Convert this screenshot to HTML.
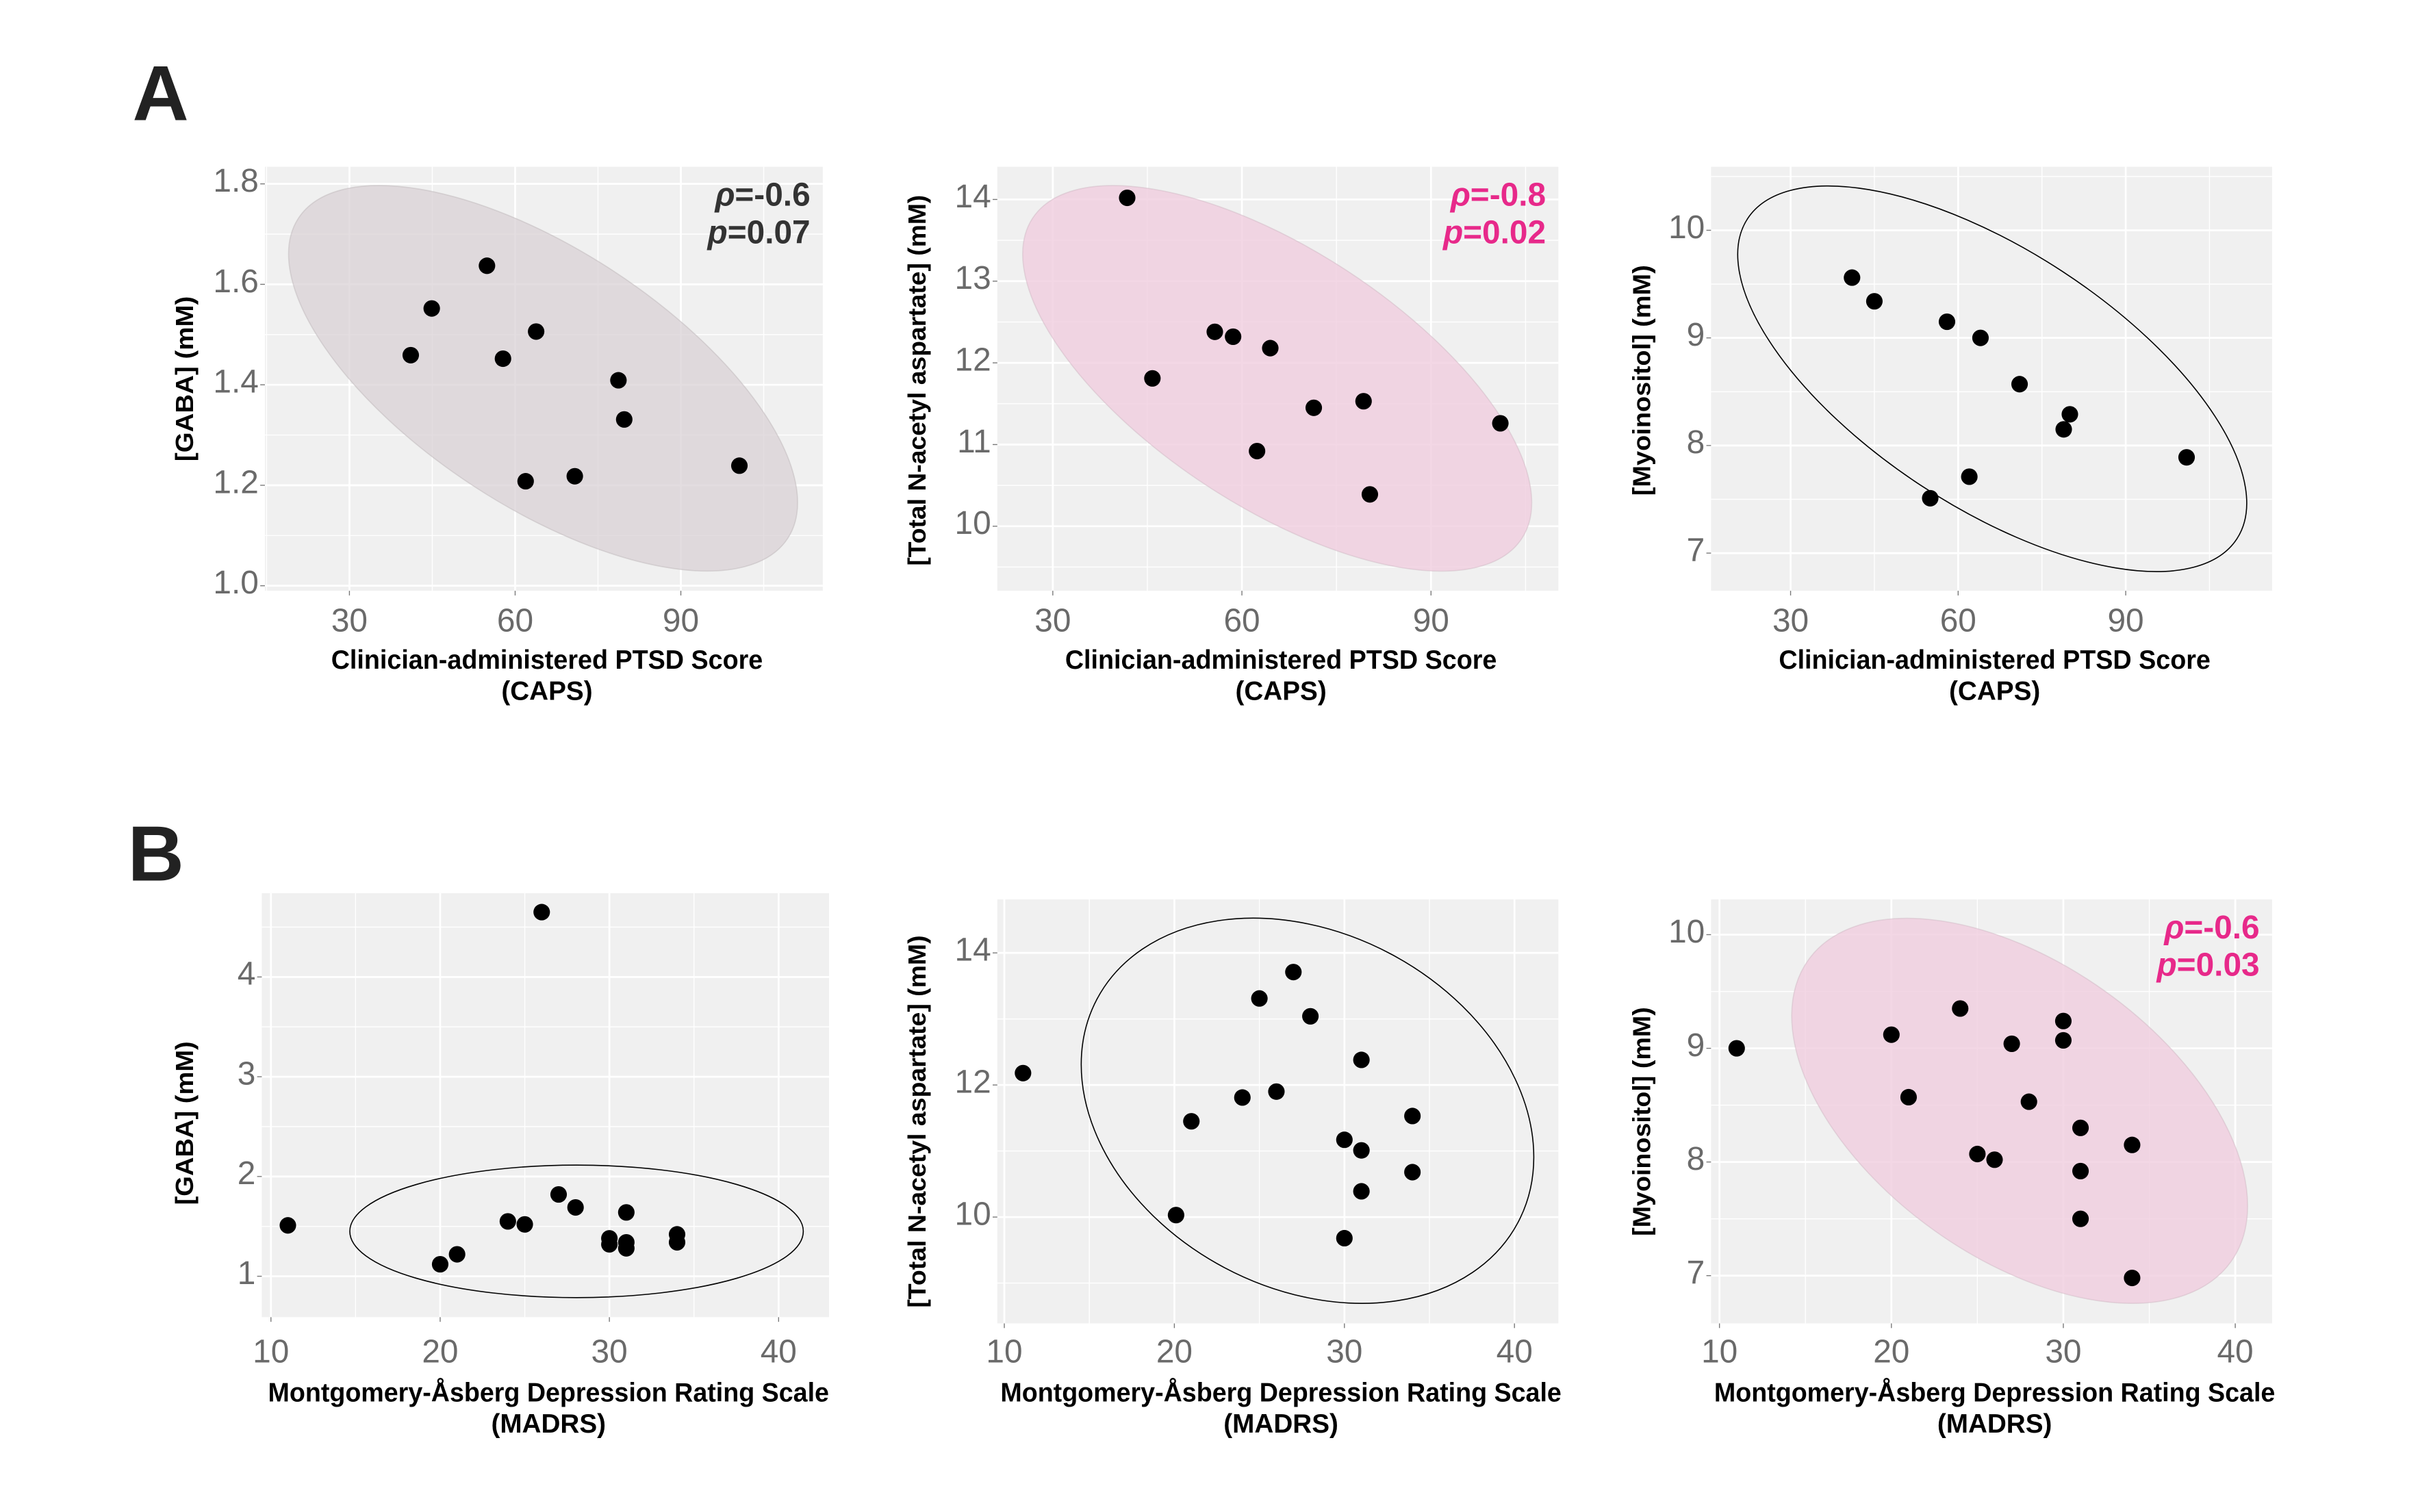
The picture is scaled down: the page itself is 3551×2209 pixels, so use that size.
<!DOCTYPE html>
<html><head><meta charset="utf-8"><style>
html,body{margin:0;padding:0;background:#fff}
svg{display:block}
text{font-family:"Liberation Sans Narrow","Liberation Sans",sans-serif}
</style></head><body>
<svg id="fig" xmlns="http://www.w3.org/2000/svg" width="3551" height="2209" viewBox="0 0 1560 970" preserveAspectRatio="none">
<rect x="0" y="0" width="1560" height="970" fill="#fff"/>
<text x="85" y="77" font-size="50" font-weight="bold" fill="#222" style="font-family:'Liberation Sans',sans-serif">A</text>
<text x="82" y="565" font-size="50" font-weight="bold" fill="#222" style="font-family:'Liberation Sans',sans-serif">B</text>
</svg>
<script>
// ---- data ----
const a1X=[41.1,44.9,54.9,57.8,63.8,61.9,70.8,78.7,79.75,100.6];
const a1Y=[1.459,1.552,1.637,1.452,1.506,1.208,1.218,1.409,1.331,1.239];
const a2X=[41.8,45.8,55.7,58.6,64.5,71.4,79.3,62.4,80.3,101.0];
const a2Y=[14.02,11.81,12.38,12.32,12.18,11.45,11.53,10.92,10.39,11.26];
const a3X=[41,45,58,64,71,80,78.9,100.9,62,55];
const a3Y=[9.56,9.34,9.15,9.00,8.57,8.29,8.15,7.89,7.71,7.51];
const b1X=[11,26,20,21,24,25,27,28,31,30,30,31,31,34,34];
const b1Y=[1.51,4.65,1.12,1.22,1.55,1.52,1.82,1.69,1.64,1.38,1.32,1.34,1.28,1.42,1.34];
const b2X=[11.1,27,25,28,31,26,24,21,34,30,31,34,31,20.1,30];
const b2Y=[12.18,13.71,13.31,13.04,12.38,11.90,11.81,11.45,11.53,11.17,11.01,10.68,10.39,10.03,9.68];
const b3X=[11,20,24,30,30,27,21,28,31,34,25,26,31,31,34];
const b3Y=[9.00,9.12,9.35,9.24,9.07,9.04,8.57,8.53,8.30,8.15,8.07,8.02,7.92,7.50,6.98];
const capsTicks=[30,60,90];
const madrsTicks=[10,20,30,40];
const gabaATicks=[1.0,1.2,1.4,1.6,1.8];
const naaATicks=[10,11,12,13,14];
const myoATicks=[7,8,9,10];
const gabaBTicks=[1,2,3,4];
const naaBTicks=[10,12,14];
const myoBTicks=[7,8,9,10];
const a1Stats=["ρ=-0.6","p=0.07"];
const a2Stats=["ρ=-0.8","p=0.02"];
const b3Stats=["ρ=-0.6","p=0.03"];

const NS="http://www.w3.org/2000/svg";
const svg=document.getElementById('fig');
function mk(tag,attrs,parent){const e=document.createElementNS(NS,tag);for(const k in attrs)e.setAttribute(k,attrs[k]);(parent||svg).appendChild(e);return e;}

function panel(o){
  const g=mk('g',{});
  
  
  const L=o.box[0],R=o.box[1],T=o.box[2],B=o.box[3];
  const sx=v=>L+(v-o.xd[0])/(o.xd[1]-o.xd[0])*(R-L);
  const sy=v=>B-(v-o.yd[0])/(o.yd[1]-o.yd[0])*(B-T);
  const bg=mk('rect',{x:L,y:T,width:R-L,height:B-T,fill:'#f0f0f0'},g);
  
  
  const xs=o.xt[1]-o.xt[0], ys=o.yt[1]-o.yt[0];
  for(let v=o.xt[0]-xs/2; v<=o.xd[1]; v+=xs){ if(v>=o.xd[0]) mk('line',{x1:sx(v),x2:sx(v),y1:T,y2:B,stroke:'#fff','stroke-width':0.6},g);}
  for(let v=o.yt[0]-ys/2; v<=o.yd[1]; v+=ys){ if(v>=o.yd[0]) mk('line',{x1:L,x2:R,y1:sy(v),y2:sy(v),stroke:'#fff','stroke-width':0.6},g);}
  o.xt.forEach(v=>{
    mk('line',{x1:sx(v),x2:sx(v),y1:T,y2:B,stroke:'#fff','stroke-width':1.2},g);
    mk('line',{x1:sx(v),x2:sx(v),y1:B,y2:B+3,stroke:'#777','stroke-width':0.6},g);
    const t=mk('text',{x:sx(v),y:o.rowY,'font-size':21,fill:'#6a6a6a','text-anchor':'middle'},g);
    t.textContent=String(v);
    
    
  });
  o.yt.forEach(v=>{
    mk('line',{x1:L,x2:R,y1:sy(v),y2:sy(v),stroke:'#fff','stroke-width':1.2},g);
    mk('line',{x1:L-3,x2:L,y1:sy(v),y2:sy(v),stroke:'#777','stroke-width':0.6},g);
    const t=mk('text',{x:L-4,y:sy(v)+5,'font-size':21,fill:'#6a6a6a','text-anchor':'end'},g);
    t.textContent=o.yfmt?v.toFixed(1):String(v);
    
    
  });
  const e=o.ell;
  const cx=sx(e.cx), cy=sy(e.cy);
  const el=mk('ellipse',{cx:cx,cy:cy,rx:e.a,ry:e.b,transform:`rotate(${e.ang} ${cx} ${cy})`,
     fill:e.fill,stroke:e.stroke,'stroke-width':e.sw},g);
  
  
  o.X.forEach((xv,i)=>{
    const c=mk('circle',{cx:sx(xv),cy:sy(o.Y[i]),r:5.3,fill:'#000'},g);
    
    
  });
  if(o.stats){
    const s1=mk('text',{x:R-8,y:T+25,'font-size':21,'font-weight':'bold',fill:o.statColor,'text-anchor':'end',style:"font-family:'Liberation Sans',sans-serif"},g);
    s1.innerHTML='<tspan font-style="italic">'+o.stats[0].slice(0,1)+'</tspan>'+o.stats[0].slice(1);
    
    
    const s2=mk('text',{x:R-8,y:T+49,'font-size':21,'font-weight':'bold',fill:o.statColor,'text-anchor':'end',style:"font-family:'Liberation Sans',sans-serif"},g);
    s2.innerHTML='<tspan font-style="italic">'+o.stats[1].slice(0,1)+'</tspan>'+o.stats[1].slice(1);
    
    
  }
  const mx=(L+R)/2+2;
  const t1=mk('text',{x:mx,y:o.titleY,'font-size':17,'font-weight':'bold',fill:'#000','text-anchor':'middle',textLength:o.xw,lengthAdjust:'spacingAndGlyphs'},g);
  t1.textContent=o.xt1;
  
  
  const t2=mk('text',{x:mx,y:o.titleY+20,'font-size':17,'font-weight':'bold',fill:'#000','text-anchor':'middle'},g);
  t2.textContent=o.xt2;
  
  
  const yx=o.ytx, yc=(o.yspan[0]+o.yspan[1])/2;
  const t3=mk('text',{x:yx,y:yc,'font-size':16,'font-weight':'bold',fill:'#000','text-anchor':'middle',transform:`rotate(-90 ${yx} ${yc})`,textLength:o.yspan[1]-o.yspan[0],lengthAdjust:'spacingAndGlyphs',style:"font-family:'Liberation Sans',sans-serif"},g);
  t3.textContent=o.ytitle;
  
  
}
const greyFill={fill:'rgba(218,210,214,0.75)',stroke:'rgba(180,172,176,0.4)',sw:0.7};
const pinkFill={fill:'rgba(240,205,222,0.8)',stroke:'rgba(200,175,188,0.4)',sw:0.7};
const line={fill:'none',stroke:'#000',sw:0.7};
const caps1='Clinician-administered PTSD Score', madrs1='Montgomery-Åsberg Depression Rating Scale';

panel({name:'panel-a-gaba',box:[170,528,107,379],rowY:405,titleY:429,xd:[14.7,115.7],yd:[0.99,1.834],xt:capsTicks,yt:gabaATicks,yfmt:true,X:a1X,Y:a1Y,
 ell:Object.assign({cx:65.06,cy:1.413,a:187.6,b:82.3,ang:33.2},greyFill),stats:a1Stats,statColor:'#333',
 xt1:caps1,xt2:'(CAPS)',xw:277,ytitle:'[GABA] (mM)',ytx:124,yspan:[190,296]});
panel({name:'panel-a-naa',box:[640,1000,107,379],rowY:405,titleY:429,xd:[21.2,110.2],yd:[9.21,14.40],xt:capsTicks,yt:naaATicks,X:a2X,Y:a2Y,
 ell:Object.assign({cx:65.6,cy:11.81,a:187.6,b:82.3,ang:33.2},pinkFill),stats:a2Stats,statColor:'#e7298a',
 xt1:caps1,xt2:'(CAPS)',xw:277,ytitle:'[Total N-acetyl aspartate] (mM)',ytx:594,yspan:[125,363]});
panel({name:'panel-a-myo',box:[1098,1458,107,379],rowY:405,titleY:429,xd:[15.76,116.2],yd:[6.65,10.59],xt:capsTicks,yt:myoATicks,X:a3X,Y:a3Y,
 ell:Object.assign({cx:66.1,cy:8.62,a:187.6,b:82.3,ang:33.2},line),
 xt1:caps1,xt2:'(CAPS)',xw:277,ytitle:'[Myoinositol] (mM)',ytx:1059,yspan:[170,318]});
panel({name:'panel-b-gaba',box:[168,532,573,845],rowY:874,titleY:899,xd:[9.46,42.98],yd:[0.59,4.84],xt:madrsTicks,yt:gabaBTicks,X:b1X,Y:b1Y,
 ell:Object.assign({cx:28.06,cy:1.45,a:145.5,b:42.5,ang:0},line),
 xt1:madrs1,xt2:'(MADRS)',xw:360,ytitle:'[GABA] (mM)',ytx:124,yspan:[668,773]});
panel({name:'panel-b-naa',box:[640,1000,577,849],rowY:874,titleY:899,xd:[9.59,42.58],yd:[8.39,14.81],xt:madrsTicks,yt:naaBTicks,X:b2X,Y:b2Y,
 ell:Object.assign({cx:27.83,cy:11.61,a:152.9,b:113.9,ang:28},line),
 xt1:madrs1,xt2:'(MADRS)',xw:360,ytitle:'[Total N-acetyl aspartate] (mM)',ytx:594,yspan:[600,839]});
panel({name:'panel-b-myo',box:[1098,1458,577,849],rowY:874,titleY:899,xd:[9.51,42.14],yd:[6.58,10.31],xt:madrsTicks,yt:myoBTicks,X:b3X,Y:b3Y,
 ell:Object.assign({cx:27.46,cy:8.45,a:166.6,b:94.3,ang:35.5},pinkFill),stats:b3Stats,statColor:'#e7298a',
 xt1:madrs1,xt2:'(MADRS)',xw:360,ytitle:'[Myoinositol] (mM)',ytx:1059,yspan:[646,793]});
</script>
</body></html>
